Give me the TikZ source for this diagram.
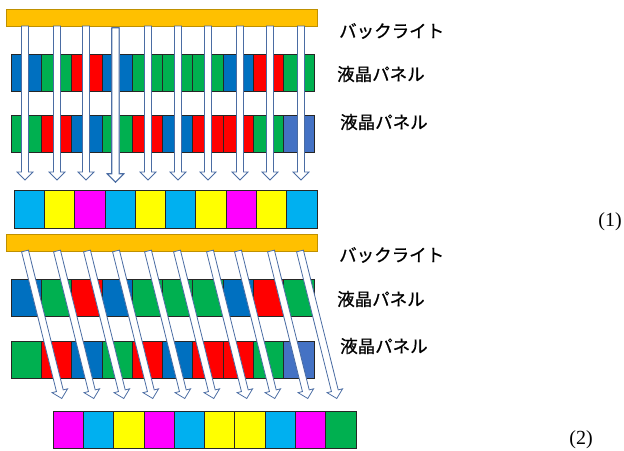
\documentclass[tikz,border=0pt]{standalone}
\usepackage{fontspec}
\setmainfont{Liberation Serif}
\newfontfamily\jpfont[FakeBold=0.8]{Noto Sans CJK JP}
\definecolor{cB}{HTML}{0070C0}
\definecolor{cG}{HTML}{00B050}
\definecolor{cR}{HTML}{FF0000}
\definecolor{cL}{HTML}{4472C4}
\definecolor{cC}{HTML}{00B0F0}
\definecolor{cY}{HTML}{FFFF00}
\definecolor{cM}{HTML}{FF00FF}
\definecolor{bl}{HTML}{FFC000}
\definecolor{bldraw}{HTML}{BF9000}
\definecolor{arrowline}{HTML}{4A6CA3}
\tikzset{
  cell/.style={draw=black!85, line width=0.7pt},
  backlight/.style={fill=bl, draw=bldraw, line width=0.7pt},
  blockarrow/.style={draw=arrowline, fill=white, line width=0.8pt, line join=miter},
  jplabel/.style={anchor=west, inner sep=0pt, font=\jpfont\fontsize{17.5}{17.5}\selectfont},
  numlabel/.style={inner sep=0pt, font=\fontsize{20}{20}\selectfont},
}
\newcommand\barrow[4]{% top-center x, y, angle, length
  \begin{scope}[shift={(#1,#2)}, rotate=#3]
    \draw[blockarrow] (-3.5,0) -- (-3.5,#4-8) -- (-8,#4-8) -- (0,#4) -- (8,#4-8) -- (3.5,#4-8) -- (3.5,0) -- cycle;
  \end{scope}}
\begin{document}
\begin{tikzpicture}[x=1pt,y=-1pt]
\useasboundingbox (0,0) rectangle (624,450);
% ---------- (1) ----------
\draw[backlight] (6,9) rectangle (317,26);
\foreach \c [count=\i from 0] in {B,G,R,B,G,G,G,B,R,G}
  \draw[cell, fill=c\c] (11+\i*30.3,54) rectangle ++(30.3,37);
\foreach \c [count=\i from 0] in {G,R,B,G,R,B,R,R,G,L}
  \draw[cell, fill=c\c] (11+\i*30.3,115) rectangle ++(30.3,37);
\foreach \x in {25,57,86,148,178,208,240,270,301}
  \barrow{\x}{26}{0}{154}
\barrow{115.5}{28}{0}{154}
\foreach \c [count=\i from 0] in {C,Y,M,C,Y,C,Y,M,Y,C}
  \draw[cell, fill=c\c] (14+\i*30.3,190) rectangle ++(30.3,38);
\node[jplabel] (bl1) at (339,31) {バックライト};
\node[jplabel] (lc1a) at (337,74) {液晶パネル};
\node[jplabel] (lc1b) at (340,122) {液晶パネル};
\node[numlabel] (n1) at (610,222) {(1)};
% ---------- (2) ----------
\draw[backlight] (6,234) rectangle (317,251);
\foreach \c [count=\i from 0] in {B,G,R,B,G,G,G,B,R,G}
  \draw[cell, fill=c\c] (11+\i*30.3,279) rectangle ++(30.3,37);
\foreach \c [count=\i from 0] in {G,R,B,G,R,B,R,R,G,L}
  \draw[cell, fill=c\c] (11+\i*30.3,341) rectangle ++(30.3,37);
\foreach \x in {25,57,87,116,148,177,210,238,271,300}
  \barrow{\x}{251}{14}{152}
\foreach \c [count=\i from 0] in {M,C,Y,M,C,Y,Y,C,M,G}
  \draw[cell, fill=c\c] (53+\i*30.3,411) rectangle ++(30.3,37);
\node[jplabel] (bl2) at (339,255) {バックライト};
\node[jplabel] (lc2a) at (337,299) {液晶パネル};
\node[jplabel] (lc2b) at (340,346) {液晶パネル};
\node[numlabel] (n2) at (581,440) {(2)};
\end{tikzpicture}
\end{document}
